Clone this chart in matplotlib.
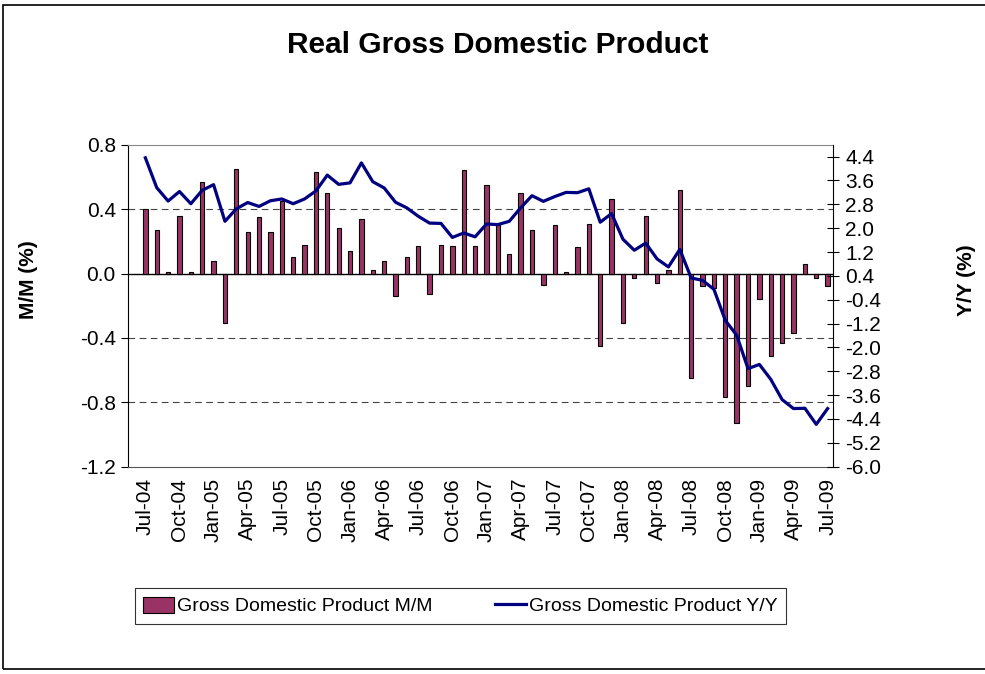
import matplotlib
matplotlib.use("Agg")
import matplotlib.pyplot as plt
from matplotlib.patches import Rectangle
import numpy as np

plt.rcParams['font.family'] = ['Liberation Sans', 'DejaVu Sans']

months = ["Jul-04", "Aug-04", "Sep-04", "Oct-04", "Nov-04", "Dec-04",
          "Jan-05", "Feb-05", "Mar-05", "Apr-05", "May-05", "Jun-05",
          "Jul-05", "Aug-05", "Sep-05", "Oct-05", "Nov-05", "Dec-05",
          "Jan-06", "Feb-06", "Mar-06", "Apr-06", "May-06", "Jun-06",
          "Jul-06", "Aug-06", "Sep-06", "Oct-06", "Nov-06", "Dec-06",
          "Jan-07", "Feb-07", "Mar-07", "Apr-07", "May-07", "Jun-07",
          "Jul-07", "Aug-07", "Sep-07", "Oct-07", "Nov-07", "Dec-07",
          "Jan-08", "Feb-08", "Mar-08", "Apr-08", "May-08", "Jun-08",
          "Jul-08", "Aug-08", "Sep-08", "Oct-08", "Nov-08", "Dec-08",
          "Jan-09", "Feb-09", "Mar-09", "Apr-09", "May-09", "Jun-09",
          "Jul-09"]

mm = [0.40, 0.27, 0.01, 0.36, 0.01, 0.57, 0.08, -0.31, 0.65, 0.26, 0.35, 0.26,
      0.45, 0.10, 0.18, 0.63, 0.50, 0.28, 0.14, 0.34, 0.02, 0.08, -0.14, 0.10,
      0.17, -0.13, 0.18, 0.17, 0.64, 0.17, 0.55, 0.30, 0.12, 0.50, 0.27, -0.07,
      0.30, 0.01, 0.165, 0.31, -0.45, 0.46, -0.31, -0.03, 0.36, -0.06, 0.02, 0.52,
      -0.65, -0.08, -0.09, -0.77, -0.93, -0.70, -0.16, -0.51, -0.43, -0.37, 0.06,
      -0.03, -0.08]

yy = [4.36, 3.36, 2.91, 3.23, 2.82, 3.27, 3.46, 2.23, 2.65, 2.86, 2.73, 2.92,
      2.98, 2.82, 2.98, 3.25, 3.78, 3.47, 3.52, 4.19, 3.56, 3.35, 2.87, 2.68,
      2.40, 2.17, 2.16, 1.69, 1.84, 1.71, 2.14, 2.12, 2.23, 2.68, 3.09, 2.90,
      3.06, 3.20, 3.19, 3.32, 2.20, 2.49, 1.63, 1.26, 1.50, 0.97, 0.70, 1.29,
      0.33, 0.25, -0.05, -1.09, -1.59, -2.71, -2.57, -3.07, -3.75, -4.05, -4.04,
      -4.58, -4.05]

left_ticks = [0.8, 0.4, 0.0, -0.4, -0.8, -1.2]
right_ticks = [4.4, 3.6, 2.8, 2.0, 1.2, 0.4, -0.4, -1.2, -2.0, -2.8, -3.6, -4.4, -5.2, -6.0]

W, H = 985, 674
fig = plt.figure(figsize=(W / 100, H / 100), dpi=100)

# outer chart border
fig.patches.append(Rectangle((3 / W, 5 / H), 1.2, (669 - 5) / H, transform=fig.transFigure,
                             fill=False, edgecolor='black', linewidth=1.2))

left, right, top, bottom = 128.3, 833.3, 144.7, 466.7
ax = fig.add_axes([left / W, 1 - bottom / H, (right - left) / W, (bottom - top) / H])

TS = 15
x = np.arange(len(months))
ax.bar(x, mm, width=0.38, color='#993366', edgecolor='black', linewidth=0.8, zorder=3,
       label='Gross Domestic Product M/M')
ax.set_xlim(-1.5, len(months) - 0.5)
ax.set_ylim(-1.2, 0.8)
ax.set_yticks(left_ticks)
ax.set_yticklabels([f"{v:.1f}" for v in left_ticks])
for g in [0.4, -0.4, -0.8]:
    ax.axhline(g, color='#444444', linestyle=(0, (6, 4)), linewidth=0.8, zorder=1)
ax.axhline(0, color='black', linewidth=1.0, zorder=2)

ax.set_xticks(x[::3])
ax.set_xticklabels(months[::3], rotation=90, fontsize=TS)
ax.tick_params(axis='x', length=0, pad=8)
ax.tick_params(axis='y', direction='out', length=5, width=0.8, labelsize=TS, pad=4)

ax.spines['top'].set_color('#888888')
ax.spines['bottom'].set_color('#555555')
ax.spines['left'].set_color('black')
ax.spines['right'].set_visible(False)

ax2 = ax.twinx()
ax2.plot(x, yy, color='#000080', linewidth=2.3, zorder=4, label='Gross Domestic Product Y/Y')
ax2.set_ylim(-6.0, 4.8)
ax2.set_yticks(right_ticks)
ax2.set_yticklabels([f"{v:.1f}" for v in right_ticks])
ax2.tick_params(axis='y', direction='inout', length=9, width=0.8, labelsize=TS, pad=4)
ax2.spines['right'].set_color('black')
ax2.spines['top'].set_visible(False)
ax2.spines['left'].set_visible(False)
ax2.spines['bottom'].set_visible(False)
ax2.set_xlim(-1.5, len(months) - 0.5)

fig.text(498 / W, 1 - 45 / H, "Real Gross Domestic Product", ha='center', va='center',
         fontsize=21.5, fontweight='bold')
fig.text(28 / W, 1 - 280 / H, "M/M (%)", ha='center', va='center', rotation=90,
         fontsize=15, fontweight='bold')
fig.text(966 / W, 1 - 280 / H, "Y/Y (%)", ha='center', va='center', rotation=90,
         fontsize=15, fontweight='bold')

h1, l1 = ax.get_legend_handles_labels()
h2, l2 = ax2.get_legend_handles_labels()
leg = fig.legend(h1 + h2, l1 + l2, loc='center', bbox_to_anchor=(460.5 / W, 1 - 606 / H),
                 ncol=2, fontsize=14, frameon=True, fancybox=False, edgecolor='black',
                 handlelength=1.6, handleheight=0.9, handletextpad=0.15, columnspacing=3.2,
                 borderpad=0.45, borderaxespad=0)
leg.get_frame().set_linewidth(0.8)

fig.savefig("out.png", dpi=100)
